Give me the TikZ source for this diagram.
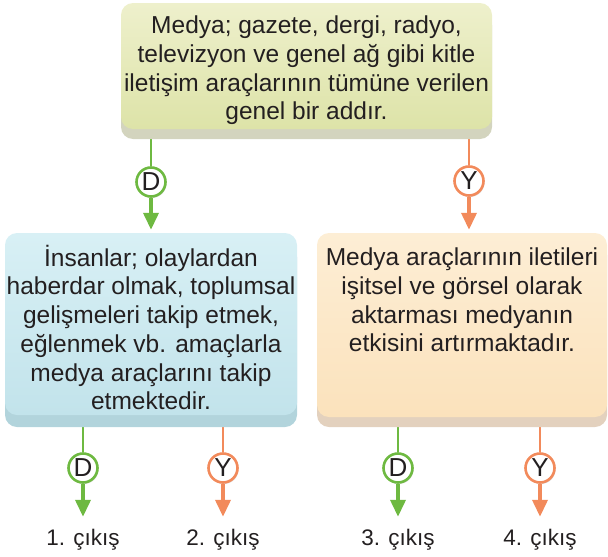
\documentclass[tikz,border=0pt]{standalone}
\usepackage{fontspec}
\setmainfont{Liberation Sans}
\usetikzlibrary{arrows.meta,shadows,backgrounds}
\definecolor{dgreen}{HTML}{6EB941}
\definecolor{dorange}{HTML}{F28A5B}
\definecolor{txtc}{HTML}{231F20}
\definecolor{topA}{HTML}{EEF0CC}
\definecolor{topB}{HTML}{DDE3A8}
\definecolor{topBand}{HTML}{D3D4BE}
\definecolor{leftA}{HTML}{D8F0F5}
\definecolor{leftB}{HTML}{C2E3EB}
\definecolor{leftBand}{HTML}{B2D4DC}
\definecolor{rightA}{HTML}{FDEED5}
\definecolor{rightB}{HTML}{FBE2BC}
\definecolor{rightBand}{HTML}{E3D1BE}
\newcommand{\boxtxt}[4]{\parbox[c][#1][t]{#2}{\centering\vspace*{#3}#4\par}}
\tikzset{
  boxbase/.style={rounded corners=12pt, inner sep=0pt, align=center, text=txtc,
    font=\fontsize{24.5}{28.7}\selectfont},
  topbox/.style={boxbase, top color=topA, bottom color=topB,
    minimum width=371pt, minimum height=126pt,
    preaction={fill=topBand, transform canvas={yshift=-10pt}}},
  leftbox/.style={boxbase, top color=leftA, bottom color=leftB,
    minimum width=292pt, minimum height=182pt,
    preaction={fill=leftBand, transform canvas={yshift=-12pt}}},
  rightbox/.style={boxbase, top color=rightA, bottom color=rightB,
    minimum width=290pt, minimum height=184pt,
    preaction={fill=rightBand, transform canvas={yshift=-10pt}}},
  gcirc/.style={circle, draw=dgreen, line width=2.6pt, fill=white, minimum size=29pt,
    inner sep=0pt, text=txtc, font=\fontsize{26}{26}\selectfont,
    drop shadow={opacity=0.25, shadow xshift=1pt, shadow yshift=-1.5pt}},
  ocirc/.style={gcirc, draw=dorange},
  gline/.style={draw=dgreen, line width=2pt},
  oline/.style={draw=dorange, line width=2pt},
  garr/.style={draw=dgreen, line width=3.6pt, -{Triangle[width=15pt,length=17pt]}, color=dgreen},
  oarr/.style={draw=dorange, line width=3.6pt, -{Triangle[width=15pt,length=17pt]}, color=dorange},
  outtxt/.style={inner sep=0pt, text height=15pt, text depth=5pt, anchor=base, text=txtc,
    font=\fontsize{22.5}{24}\selectfont}
}
\begin{document}
\begin{tikzpicture}[x=1pt,y=-1pt]
\useasboundingbox (0,0) rectangle (608,557);
\node[topbox] (top) at (306.5,66) {\boxtxt{126pt}{366pt}{13pt}{Medya; gazete, dergi, radyo,\\televizyon ve genel ağ gibi kitle\\iletişim araçlarının tümüne verilen\\genel bir addır.}};
\node[leftbox] (left) at (151,324) {\boxtxt{182pt}{290pt}{12pt}{İnsanlar; olaylardan\\haberdar olmak, toplumsal\\gelişmeleri takip etmek,\\eğlenmek vb. amaçlarla\\medya araçlarını takip\\etmektedir.}};
\node[rightbox] (right) at (462,325) {\boxtxt{184pt}{286pt}{15pt}{Medya araçlarının iletileri\\işitsel ve görsel olarak\\aktarması medyanın\\etkisini artırmaktadır.}};
\node[gcirc] (d0) at (151,182) {D};
\node[ocirc] (y0) at (469,181) {Y};
\node[gcirc] (d1) at (83,468) {D};
\node[ocirc] (y1) at (223,468) {Y};
\node[gcirc] (d2) at (398,468) {D};
\node[ocirc] (y2) at (540,468) {Y};
\node[outtxt] (o1) at (83,545) {1. çıkış};
\node[outtxt] (o2) at (223,545) {2. çıkış};
\node[outtxt] (o3) at (398,545) {3. çıkış};
\node[outtxt] (o4) at (540,545) {4. çıkış};
\begin{pgfonlayer}{background}
\draw[gline] (top.south -| d0) -- ++(0,12) -- (d0.north);
\draw[oline] (top.south -| y0) -- ++(0,12) -- (y0.north);
\draw[gline] (left.south -| d1) -- ++(0,12) -- (d1.north);
\draw[oline] (left.south -| y1) -- ++(0,12) -- (y1.north);
\draw[gline] (right.south -| d2) -- ++(0,12) -- (d2.north);
\draw[oline] (right.south -| y2) -- ++(0,12) -- (y2.north);
\draw[garr, shorten >=3pt] (d0.south) -- (d0.south |- left.north);
\draw[oarr, shorten >=3pt] (y0.south) -- (y0.south |- right.north);
\draw[garr, shorten >=13pt] (d1.south) -- (o1.north);
\draw[oarr, shorten >=13pt] (y1.south) -- (o2.north);
\draw[garr, shorten >=13pt] (d2.south) -- (o3.north);
\draw[oarr, shorten >=13pt] (y2.south) -- (o4.north);
\end{pgfonlayer}
\end{tikzpicture}
\end{document}
